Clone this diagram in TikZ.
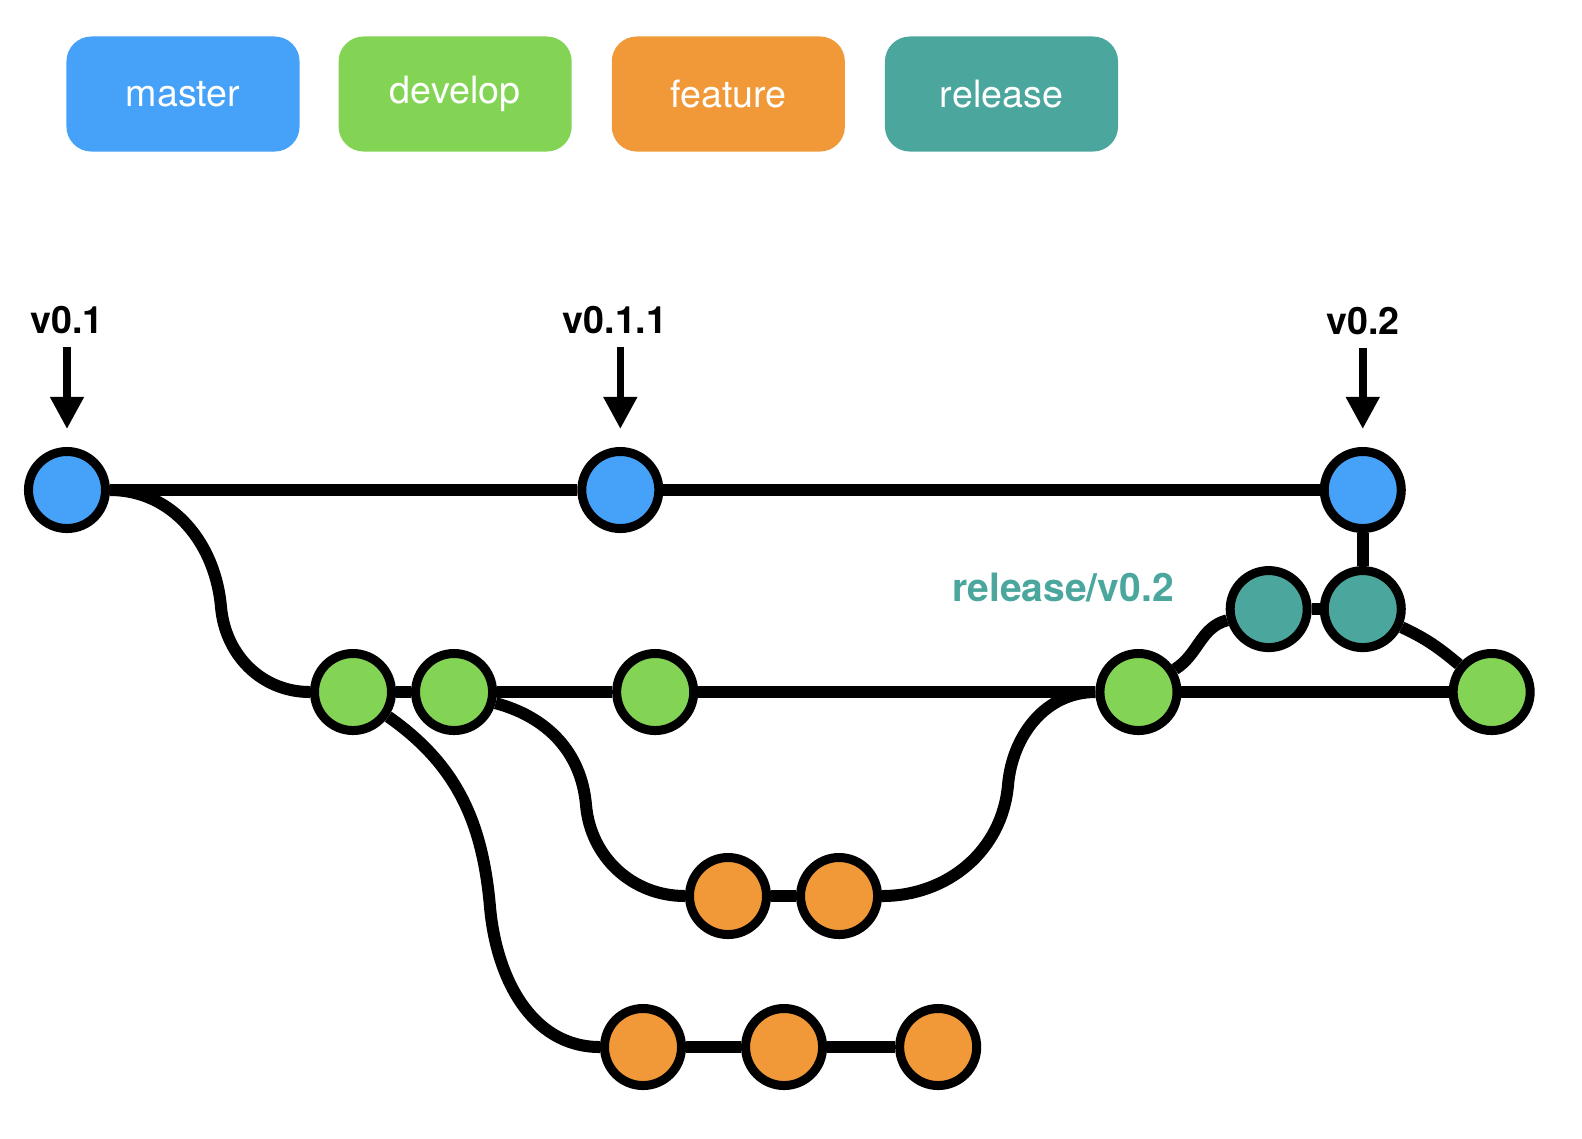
\documentclass[tikz,border=0pt]{standalone}
\usepackage{fontspec}
\setmainfont{TeX Gyre Heros}
\usepackage{tikz}
\usetikzlibrary{positioning,arrows.meta}
\definecolor{masterblue}{RGB}{69,162,248}
\definecolor{developgreen}{RGB}{131,212,85}
\definecolor{featureorange}{RGB}{241,153,56}
\definecolor{releaseteal}{RGB}{75,167,157}

\begin{document}
\begin{tikzpicture}[x=0.01cm,y=-0.01cm,on grid,line width=0.12cm]
    \tikzset{commit/.style={circle,draw,line width=0.09cm,minimum size=0.77cm,inner sep=0pt}}
    \tikzset{legend/.style={rectangle,rounded corners=0.25cm,minimum width=2.33cm,minimum height=1.15cm,text=white,font=\fontsize{10.7}{12}\selectfont}}
    \tikzset{tag/.style={inner sep=0pt,font=\fontsize{10.7}{12}\selectfont\bfseries}}
    \tikzset{tagarrow/.style={-{Triangle[width=0.32cm,length=0.32cm]},line width=0.075cm,shorten <=0.07cm,shorten >=0.18cm}}
    \useasboundingbox (0,0) rectangle (1582,1138);
    % legend
    \node[legend,fill=masterblue] (lmaster) at (183,94) {master};
    \node[legend,fill=developgreen] (ldevelop) [right=2.72cm of lmaster] {develop};
    \node[legend,fill=featureorange] (lfeature) [right=2.73cm of ldevelop] {feature};
    \node[legend,fill=releaseteal] (lrelease) [right=2.73cm of lfeature] {release};
    % master
    \node[commit,fill=masterblue] (m0) at (67,490) {};
    \node[commit,fill=masterblue] (m1) [right=5.53cm of m0] {};
    \node[commit,fill=masterblue] (m2) [right=7.42cm of m1] {};
    % develop
    \node[commit,fill=developgreen] (d0) at (353,692) {};
    \node[commit,fill=developgreen] (d1) [right=1.01cm of d0] {};
    \node[commit,fill=developgreen] (d2) [right=2.01cm of d1] {};
    \node[commit,fill=developgreen] (d3) [right=4.83cm of d2] {};
    \node[commit,fill=developgreen] (d4) [right=3.53cm of d3] {};
    % release
    \node[commit,fill=releaseteal] (r1) [below=1.19cm of m2] {};
    \node[commit,fill=releaseteal] (r0) [left=0.94cm of r1] {};
    \node[tag,text=releaseteal,font=\fontsize{11.1}{13}\selectfont\bfseries] (rname) at (1063,588) {release/v0.2};
    % features
    \node[commit,fill=featureorange] (f1a) at (728,896) {};
    \node[commit,fill=featureorange] (f1b) [right=1.11cm of f1a] {};
    \node[commit,fill=featureorange] (f2a) at (643,1047) {};
    \node[commit,fill=featureorange] (f2b) [right=1.41cm of f2a] {};
    \node[commit,fill=featureorange] (f2c) [right=1.54cm of f2b] {};
    % bends of the branch lines
    \coordinate (j0) at (221,607);
    \coordinate (j1) at (490,907);
    \coordinate (j2) at (586,805);
    \coordinate (j3) at (1008,785);
    % tags
    \node[tag] (t0) [above=1.70cm of m0] {v0.1};
    \node[tag] (t1) at (615,320) {v0.1.1};
    \node[tag] (t2) [above=1.69cm of m2] {v0.2};
    \draw[tagarrow] (t0) -- (m0);
    \draw[tagarrow] (t1.south -| m1) -- (m1);
    \draw[tagarrow] (t2) -- (m2);
    \path
    (m0) edge (m1)
    (m1) edge (m2)
    (m2) edge (r1)
    (d0) edge (d1)
    (d1) edge (d2)
    (d2) edge (d3)
    (d3) edge (d4)
    (f1a) edge (f1b)
    (d3) edge [out=32,in=195] (r0)
    (r0) edge (r1)
    (r1) edge [out=-25,in=140] (d4)
    (f2a) edge (f2b)
    (f2b) edge (f2c)
    ;
    \draw (m0) to[out=0,in=95] (j0) to[out=-85,in=180] (d0);
    \draw (d0) to[out=-35,in=95] (j1) to[out=-85,in=180] (f2a);
    \draw (d1) to[out=-15,in=95] (j2) to[out=-85,in=180] (f1a);
    \draw (f1b) to[out=0,in=-95] (j3) to[out=85,in=180] (d3);
\end{tikzpicture}
\end{document}
